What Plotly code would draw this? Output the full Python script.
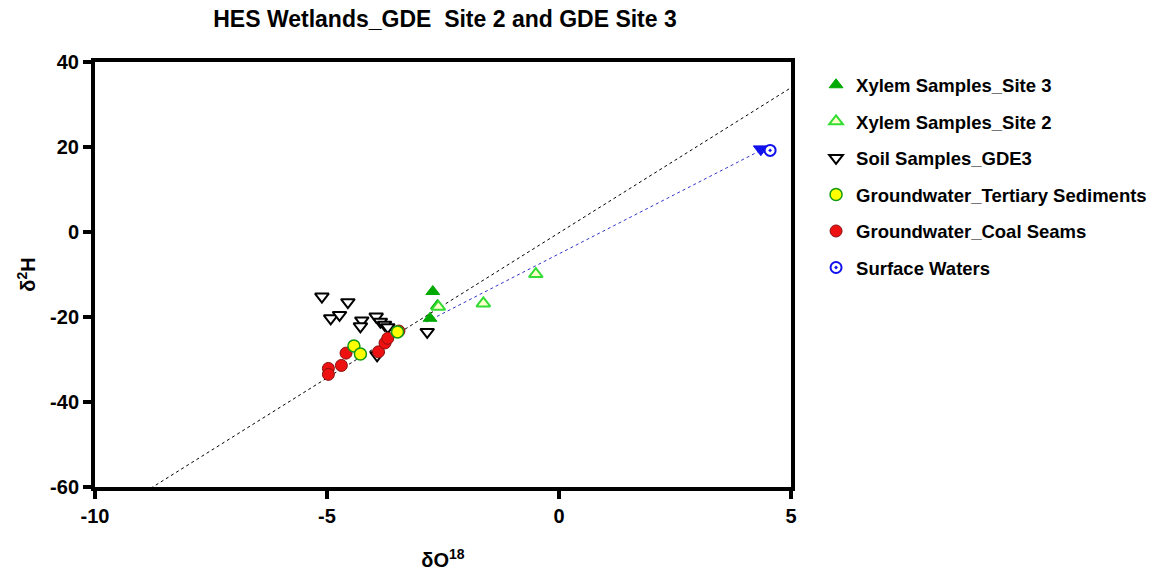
import plotly.graph_objects as go

# ---- data ----
site3_x = [-2.72, -2.62, -2.78]
site3_y = [-14.0, -17.3, -20.3]

site2_x = [-2.60, -1.63, -0.50]
site2_y = [-17.6, -16.8, -9.9]

soil_x = [-5.11, -4.55, -4.92, -4.73, -4.25, -4.28, -3.94, -3.85, -3.76, -3.69, -3.92, -2.84]
soil_y = [-15.2, -16.5, -20.3, -19.5, -20.8, -22.2, -19.9, -21.1, -21.8, -22.4, -29.0, -23.5]

tert_x = [-4.42, -4.28, -3.48]
tert_y = [-26.8, -28.7, -23.5]

coal_x = [-4.97, -4.97, -4.69, -4.59, -3.89, -3.75, -3.69, -3.45]
coal_y = [-32.1, -33.5, -31.4, -28.5, -28.2, -26.1, -25.0, -23.3]

surf_x = [4.55]
surf_y = [19.2]
surf_tri_x = [4.35]
surf_tri_y = [19.5]

# reference lines (slope, intercept, x extent)
lmwl_slope, lmwl_int = 6.83, -0.2
lmwl_xr = [-8.8, 5.0]
evap_slope, evap_int = 5.6, -5.14
evap_xr = [-2.86, 4.4]

x_ticks = [-10, -5, 0, 5]
y_ticks = [-60, -40, -20, 0, 20, 40]

fig = go.Figure()

fig.add_trace(go.Scatter(
    x=lmwl_xr, y=[lmwl_slope * v + lmwl_int for v in lmwl_xr],
    mode="lines", line=dict(color="black", width=1, dash="dot"),
    showlegend=False, hoverinfo="skip"))
fig.add_trace(go.Scatter(
    x=evap_xr, y=[evap_slope * v + evap_int for v in evap_xr],
    mode="lines", line=dict(color="#3333cc", width=1, dash="dot"),
    showlegend=False, hoverinfo="skip"))

fig.add_trace(go.Scatter(
    x=soil_x, y=soil_y, mode="markers", name="Soil Samples_GDE3", legendrank=3, legendgroup="c",
    marker=dict(symbol="triangle-down", size=12, color="white", line=dict(color="black", width=2))))
fig.add_trace(go.Scatter(
    x=coal_x, y=coal_y, mode="markers", name="Groundwater_Coal Seams", legendrank=5, legendgroup="e",
    marker=dict(symbol="circle", size=12, color="#ee1111", line=dict(color="#881111", width=1))))
fig.add_trace(go.Scatter(
    x=tert_x, y=tert_y, mode="markers", name="Groundwater_Tertiary Sediments", legendrank=4, legendgroup="d",
    marker=dict(symbol="circle", size=12, color="#ffff00", line=dict(color="#119911", width=1.5))))
fig.add_trace(go.Scatter(
    x=site3_x, y=site3_y, mode="markers", name="Xylem Samples_Site 3", legendrank=1, legendgroup="a",
    marker=dict(symbol="triangle-up", size=12, color="#00aa00", line=dict(color="#00aa00", width=1))))
fig.add_trace(go.Scatter(
    x=site2_x, y=site2_y, mode="markers", name="Xylem Samples_Site 2", legendrank=2, legendgroup="b",
    marker=dict(symbol="triangle-up", size=12, color="#ffffcc", line=dict(color="#33dd33", width=2))))
fig.add_trace(go.Scatter(
    x=surf_tri_x, y=surf_tri_y, mode="markers", showlegend=False,
    marker=dict(symbol="triangle-down", size=13, color="#1111ee", line=dict(color="#1111ee", width=1))))
fig.add_trace(go.Scatter(
    x=surf_x, y=surf_y, mode="markers", name="Surface Waters", legendrank=6, legendgroup="f",
    marker=dict(symbol="circle-dot", size=11, color="white", line=dict(color="#1111ee", width=2))))

axis_common = dict(
    showgrid=False, zeroline=False, showline=True, linecolor="black", linewidth=4,
    ticks="outside", ticklen=8, tickwidth=4, tickcolor="black", mirror=True, automargin=False,
    tickfont=dict(family="Liberation Sans, Arial", size=20, color="black", weight="bold"),
)

fig.update_xaxes(range=[-10, 5], tickvals=x_ticks, ticktext=[str(v) for v in x_ticks],
                 title=dict(text="δO<sup>18</sup>", standoff=28,
                            font=dict(family="Liberation Sans, Arial", size=20, color="black", weight="bold")),
                 **axis_common)
fig.update_yaxes(range=[-60, 40], tickvals=y_ticks, ticktext=[str(v) for v in y_ticks],
                 title=dict(text="δ<sup>2</sup>H", standoff=10,
                            font=dict(family="Liberation Sans, Arial", size=20, color="black", weight="bold")),
                 **axis_common)

fig.update_layout(
    width=1164, height=573,
    margin=dict(l=95, r=371, t=62, b=86),
    plot_bgcolor="white", paper_bgcolor="white",
    title=dict(text="HES Wetlands_GDE  Site 2 and GDE Site 3",
               x=(445) / 1164, xanchor="center", y=1 - 19 / 573, yanchor="middle",
               font=dict(family="Liberation Sans Narrow, Arial Narrow, Liberation Sans", size=23,
                         color="black", weight="bold")),
    legend=dict(x=1.036, xanchor="left", y=0.99, yanchor="top", tracegroupgap=9.5,
                font=dict(family="Liberation Sans, Arial", size=18.5, color="black", weight="bold"),
                bgcolor="rgba(0,0,0,0)"),
    showlegend=True,
)

fig.write_html("out.html")
